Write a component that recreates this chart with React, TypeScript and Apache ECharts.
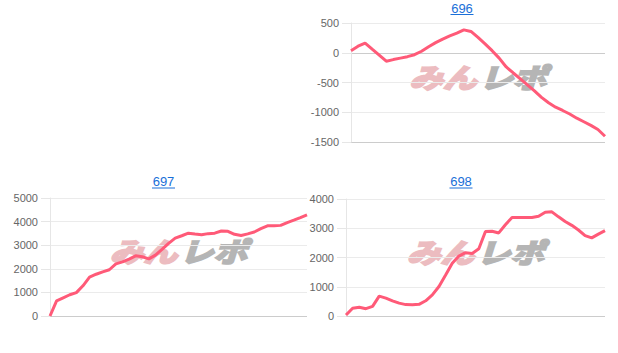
import React, { useEffect, useRef } from "react";
import * as echarts from "echarts";

const titles = ["696", "697", "698"];

const values696 = [
  35, 110, 163, 61, -40, -142, -115, -90, -66, -33, 25, 100, 170, 230, 284, 330, 385, 358, 258, 150,
  35, -90, -239, -340, -440, -540, -640, -750, -840, -915, -970, -1030, -1100, -1160, -1220, -1290, -1403,
];
const values697 = [
  0, 640, 770, 900, 990, 1280, 1650, 1770, 1870, 1960, 2210, 2295, 2410, 2550, 2510, 2420, 2580, 2820, 3080, 3300,
  3400, 3510, 3470, 3440, 3490, 3510, 3600, 3590, 3460, 3410, 3480, 3560, 3700, 3820, 3820, 3840, 3960, 4060, 4170, 4290,
];
const values698 = [
  35, 265, 300, 250, 330, 680, 610, 520, 440, 390, 385, 400, 520, 720, 1010, 1400, 1800, 2050, 2165, 2140,
  2300, 2890, 2900, 2840, 3120, 3370, 3370, 3370, 3370, 3410, 3550, 3560, 3390, 3230, 3100, 2940, 2750, 2670, 2800, 2920,
];
const seriesValues = [values696, values697, values698];

const yMins = [-1500, 0, 0];
const yMaxs = [500, 5000, 4000];
const yIntervals = [500, 1000, 1000];

const GRIDS = [
  { left: 351, top: 23, width: 254, height: 119 },
  { left: 50, top: 198, width: 257, height: 118 },
  { left: 346, top: 199, width: 259, height: 117 },
];
const TITLE_POS = [
  { x: 462, y: 8 },
  { x: 163.5, y: 181.5 },
  { x: 461, y: 181.5 },
];

const LINK = "#1a6fd8";
const LINE = "#ff5a78";

export default function App() {
  const ref = useRef<HTMLDivElement>(null);
  useEffect(() => {
    if (!ref.current) return;
    const chart = echarts.init(ref.current, undefined, { renderer: "svg" });

    const grid = GRIDS.map((g) => ({ ...g, containLabel: false }));
    const xAxis = seriesValues.map((vals, i) => ({
      type: "category" as const,
      gridIndex: i,
      boundaryGap: false,
      data: vals.map((_, k) => String(k + 1)),
      axisLine: { show: false },
      axisTick: { show: false },
      axisLabel: { show: false },
      splitLine: { show: false },
    }));
    const yAxis = seriesValues.map((_, i) => {
      const n = Math.round((yMaxs[i] - yMins[i]) / yIntervals[i]) + 1;
      const colors: string[] = [];
      for (let k = 0; k < n; k++) {
        const v = yMins[i] + k * yIntervals[i];
        colors.push(k === 0 || v === 0 ? "#cccccc" : "#ebebeb");
      }
      return {
        type: "value" as const,
        gridIndex: i,
        min: yMins[i],
        max: yMaxs[i],
        interval: yIntervals[i],
        axisLine: { show: true, lineStyle: { color: "#e6e6e6", width: 1 } },
        axisTick: { show: true, length: 9, lineStyle: { color: "#e6e6e6" } },
        axisLabel: {
          color: "#666",
          fontSize: 11,
          margin: 12,
          fontFamily: "Liberation Sans, Arial, sans-serif",
          formatter: (v: number) => String(v),
        },
        splitLine: { show: true, lineStyle: { color: colors, width: 1 } },
      };
    });
    const series = seriesValues.map((vals, i) => ({
      type: "line" as const,
      xAxisIndex: i,
      yAxisIndex: i,
      data: vals,
      symbol: "none",
      z: 5,
      lineStyle: { color: LINE, width: 3 },
      itemStyle: { color: LINE },
    }));

    const graphic: any[] = [];
    titles.forEach((t, i) => {
      const p = TITLE_POS[i];
      graphic.push({
        type: "text",
        x: p.x,
        y: p.y,
        style: {
          text: t,
          fill: LINK,
          fontSize: 13,
          fontFamily: "Liberation Sans, Arial, sans-serif",
          textAlign: "center",
          textVerticalAlign: "middle",
        },
      });
      graphic.push({
        type: "line",
        shape: { x1: p.x - 11.5, y1: p.y + 6.5, x2: p.x + 11.5, y2: p.y + 6.5 },
        style: { stroke: LINK, lineWidth: 1 },
      });
    });
    const logoText = (text: string, x: number, align: string, color: string) => ({
      type: "text",
      x,
      y: 0,
      style: {
        text,
        fill: color,
        stroke: color,
        lineWidth: 2.2,
        fontSize: 27,
        fontWeight: "bold",
        fontStyle: "italic",
        fontFamily: "Noto Sans CJK JP",
        textAlign: align,
        textVerticalAlign: "middle",
      },
    });
    GRIDS.forEach((g) => {
      const cx = g.left + g.width / 2;
      const cy = g.top + g.height / 2 - 6;
      graphic.push({
        type: "group",
        x: cx,
        y: cy,
        scaleX: 1.25,
        z: 1,
        children: [
          logoText("みん", -1, "right", "#ecbcc0"),
          logoText("レポ", 1, "left", "#b5b5b5"),
        ],
      });
    });

    chart.setOption({
      animation: false,
      backgroundColor: "#ffffff",
      grid,
      xAxis,
      yAxis,
      series,
      graphic,
    });
    return () => chart.dispose();
  }, []);
  return (
    <div
      ref={ref}
      style={{ position: "absolute", left: 0, top: 0, width: 618, height: 353 }}
    />
  );
}
